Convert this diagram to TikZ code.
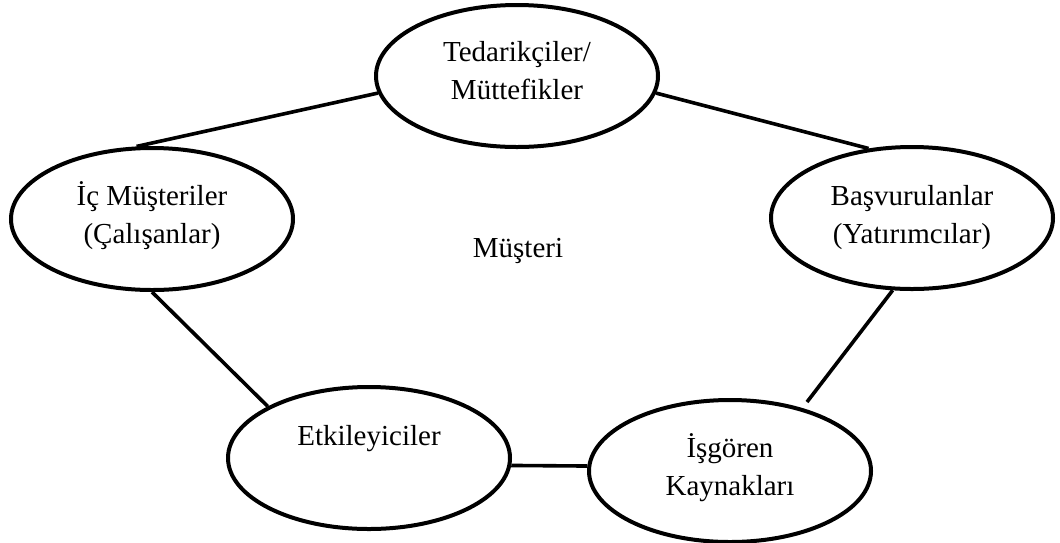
\documentclass[tikz,border=0pt]{standalone}
\usepackage{fontspec}
\setmainfont{Liberation Serif}
\usetikzlibrary{shapes.geometric}
\begin{document}
\begin{tikzpicture}[x=1pt,y=-1pt,
  ell/.style={draw=black, line width=4pt, ellipse, inner sep=0pt,
    minimum width=282pt, minimum height=142pt},
  txt/.style={align=center, inner sep=0pt, font=\fontsize{29}{38}\selectfont},
  link/.style={draw=black, line width=3.6pt}]
\useasboundingbox (0,0) rectangle (1060,542);

% stakeholder ellipses
\node[ell] (sup)   at (517,76)  {};
\node[ell] (inner) at (152,219) {};
\node[ell] (inv)   at (912,218) {};
\node[ell] (infl)  at (369,458) {};
\node[ell] (hr)    at (730,471) {};

% ellipse labels
\node[txt] (supt)   at (517,71)  {Tedarikçiler/\\Müttefikler};
\node[txt] (innert) at (152,216) {İç Müşteriler\\(Çalışanlar)};
\node[txt] (invt)   at (912,218) {Başvurulanlar\\(Yatırımcılar)};
\node[txt, anchor=base] (inflt) at (369,445) {Etkileyiciler};
\node[txt] (hrt)    at (730,468) {İşgören\\Kaynakları};

% centre label
\node[txt, anchor=base] (cust) at (518,257) {Müşteri};

% connectors
\coordinate (hrtip) at (807,402);
\draw[link] (sup.187) -- (inner.102);
\draw[link] (sup.-7) -- (inv.122);
\draw[link] (inner.-90) -- (infl.153);
\draw[link] (inv.255) -- (hrtip);
\draw[link] (infl.-3) -- (hr.178);
\end{tikzpicture}
\end{document}
